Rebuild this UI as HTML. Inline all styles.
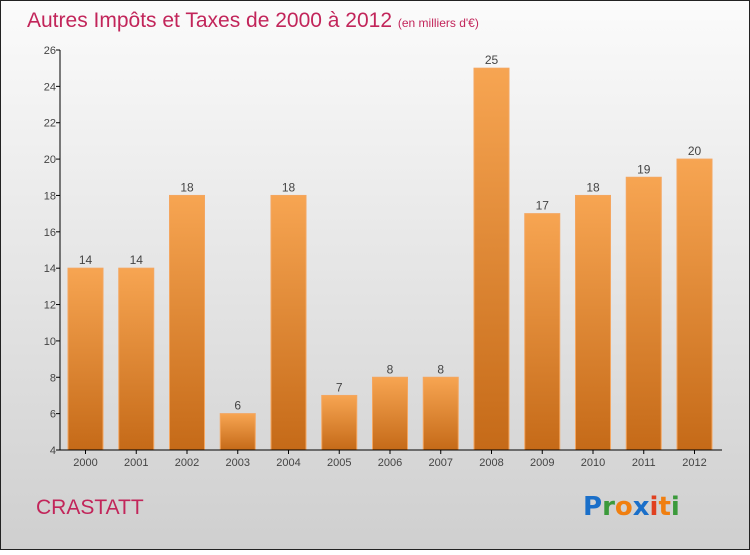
<!DOCTYPE html>
<html><head><meta charset="utf-8">
<style>
html,body{margin:0;padding:0;}
body{width:750px;height:550px;overflow:hidden;font-family:"Liberation Sans",sans-serif;}
</style></head>
<body>
<svg id="chart" width="750" height="550" xmlns="http://www.w3.org/2000/svg">
<defs>
<linearGradient id="bg" x1="0" y1="0" x2="0" y2="1">
<stop offset="0" stop-color="#fbfbfb"/><stop offset="1" stop-color="#cfcfcf"/>
</linearGradient>
<linearGradient id="bar" x1="0" y1="0" x2="0" y2="1">
<stop offset="0" stop-color="#f7a552"/><stop offset="1" stop-color="#c56a18"/>
</linearGradient>
</defs>
<rect x="0.5" y="0.5" width="749" height="549" fill="url(#bg)" stroke="#222" stroke-width="1"/>
<text x="27" y="27" font-size="21" fill="#c2255a">Autres Impôts et Taxes de 2000 à 2012 <tspan font-size="12">(en milliers d'€)</tspan></text>
<g id="plot"></g>
<text x="36" y="514" font-size="21" fill="#c2255a">CRASTATT</text>
<g font-size="26" font-weight="bold" font-family="'DejaVu Sans',sans-serif">
<text x="583" y="515"><tspan fill="#1a6fc9">P</tspan><tspan fill="#3b9a3b">r</tspan><tspan fill="#f07f10">o</tspan><tspan fill="#1a6fc9">x</tspan><tspan fill="#e04020">i</tspan><tspan fill="#f07f10">t</tspan><tspan fill="#3b9a3b">i</tspan></text>
</g>
</svg>
<script>
const years = ["2000","2001","2002","2003","2004","2005","2006","2007","2008","2009","2010","2011","2012"];
const values = [14,14,18,6,18,7,8,8,25,17,18,19,20];
const valueLabels = ["14","14","18","6","18","7","8","8","25","17","18","19","20"];
const yTicks = [4,6,8,10,12,14,16,18,20,22,24,26];
const yMin = 4, yMax = 26;

const NS = "http://www.w3.org/2000/svg";
const g = document.getElementById("plot");
const axL = 60, axB = 450, axT = 50, axR = 722;
function yScale(v){ return axB - (v - yMin) / (yMax - yMin) * (axB - axT); }
function xCenter(i){ return 85.5 + i * 50.75; }
const bw = 35;
function mk(tag, attrs){ const e = document.createElementNS(NS, tag); for (const k in attrs) e.setAttribute(k, attrs[k]); g.appendChild(e); return e; }

values.forEach((v, i) => {
  const cx = xCenter(i), y = yScale(v);
  const r = mk("rect", {x: cx - bw/2, y: y, width: bw, height: axB - y, fill: "url(#bar)", stroke: "#f4a660", "stroke-width": 1});
  
  
  const t = mk("text", {x: cx, y: y - 4, "text-anchor": "middle", "font-size": 12, fill: "#444"});
  t.textContent = valueLabels[i];
  
  
  const xl = mk("text", {x: cx, y: axB + 16, "text-anchor": "middle", "font-size": 11, fill: "#444"});
  xl.textContent = years[i];
  
  
});

yTicks.forEach(v => {
  const y = yScale(v);
  const tk = mk("line", {x1: axL - 4, x2: axL, y1: y, y2: y, stroke: "#000"});
  
  
  const lb = mk("text", {x: axL - 4, y: y + 4, "text-anchor": "end", "font-size": 11, fill: "#444"});
  lb.textContent = v;
  
  
});

const ya = mk("line", {x1: axL, x2: axL, y1: axT, y2: axB, stroke: "#000"});


const xa = mk("line", {x1: axL, x2: axR, y1: axB, y2: axB, stroke: "#000"});


years.forEach((yr, i) => {
  const t = mk("line", {x1: xCenter(i), x2: xCenter(i), y1: axB, y2: axB + 4, stroke: "#000"});
  
  
});
</script>
</body></html>
